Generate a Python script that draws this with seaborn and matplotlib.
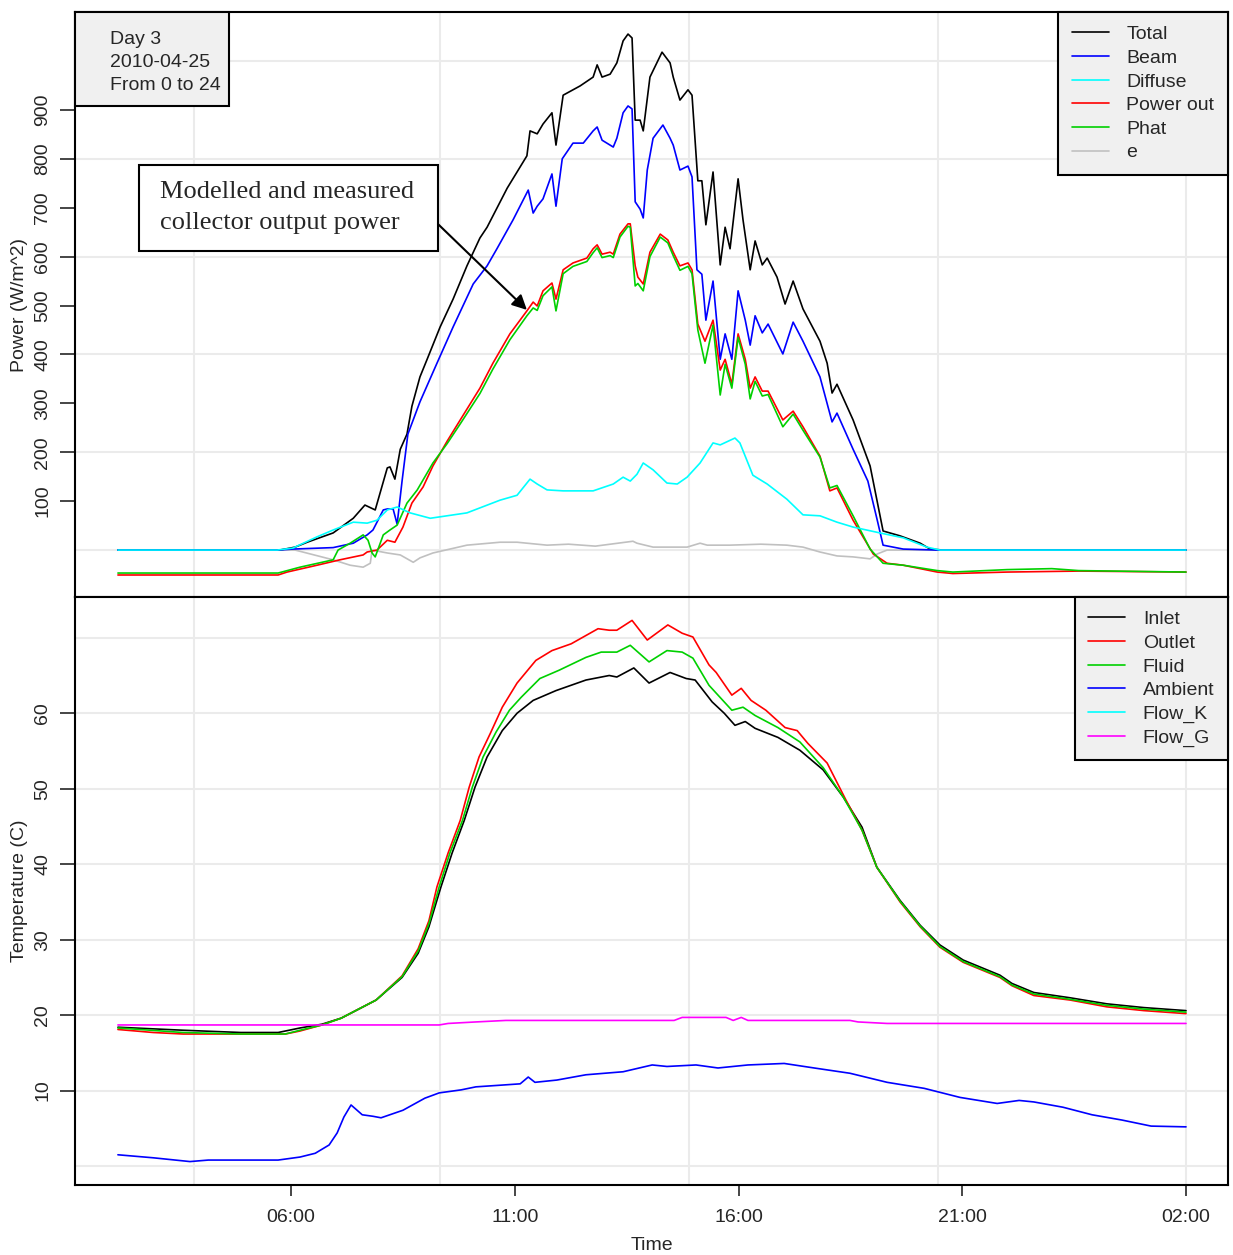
import pandas as pd
import matplotlib
matplotlib.use("Agg")
import matplotlib.pyplot as plt
from matplotlib.lines import Line2D
from matplotlib.patches import Rectangle
import seaborn as sns

# ---- power panel: hour of day (26 = 02:00 next day), W/m^2 ----
total_t = [2.13, 5.75, 6.09, 6.36, 6.94, 7.39, 7.65, 7.88, 8.15, 8.21, 8.32, 8.44, 8.59, 8.70, 8.88,
           9.04, 9.33, 9.62, 9.93, 10.22, 10.38, 10.83, 11.27, 11.34, 11.50, 11.63, 11.83, 11.92,
           12.08, 12.46, 12.75, 12.84, 12.95, 13.13, 13.28, 13.42, 13.53, 13.62, 13.69, 13.80, 13.87,
           14.02, 14.29, 14.47, 14.54, 14.69, 14.87, 14.96, 15.09, 15.18, 15.27, 15.43, 15.59, 15.70,
           15.81, 15.99, 16.10, 16.26, 16.37, 16.53, 16.64, 16.86, 17.04, 17.22, 17.44, 17.82, 17.98,
           18.09, 18.20, 18.56, 18.94, 19.23, 19.61, 20.06, 20.28, 20.57, 26.0]
total_v = [0, 0, 6, 16, 35, 65, 92, 82, 168, 170, 145, 206, 237, 294, 354,
           390, 456, 513, 581, 638, 660, 740, 806, 857, 851, 871, 894, 828,
           930, 949, 967, 992, 967, 973, 996, 1041, 1055, 1047, 879, 879, 857,
           967, 1018, 996, 967, 920, 941, 930, 755, 755, 665, 773, 583, 660,
           616, 759, 675, 573, 632, 583, 597, 558, 503, 550, 493, 427, 382,
           321, 339, 266, 172, 39, 29, 14, 2, 0, 0]

beam_t = [2.13, 5.69, 6.04, 6.94, 7.39, 7.70, 7.83, 8.06, 8.15, 8.28, 8.37, 8.48, 8.61, 8.88, 9.26,
          9.62, 10.07, 10.38, 10.60, 10.96, 11.30, 11.41, 11.50, 11.63, 11.83, 11.92, 12.06, 12.30,
          12.53, 12.75, 12.84, 12.95, 13.20, 13.28, 13.42, 13.53, 13.62, 13.69, 13.80, 13.87, 13.96,
          14.09, 14.31, 14.47, 14.54, 14.69, 14.87, 14.96, 15.07, 15.18, 15.27, 15.43, 15.59, 15.70,
          15.85, 15.99, 16.15, 16.26, 16.37, 16.53, 16.66, 16.99, 17.22, 17.44, 17.82, 18.09, 18.20,
          18.56, 18.89, 19.10, 19.23, 19.68, 20.44, 26.0]
beam_v = [0, 0, 2, 5, 14, 31, 41, 82, 84, 84, 53, 141, 237, 303, 382,
          456, 544, 581, 616, 675, 736, 689, 703, 718, 769, 703, 800, 832,
          832, 857, 865, 838, 824, 842, 894, 908, 902, 712, 697, 679, 777,
          842, 869, 842, 828, 777, 785, 763, 573, 564, 470, 550, 390, 442,
          390, 530, 470, 419, 479, 444, 462, 401, 466, 427, 354, 262, 280,
          206, 141, 61, 10, 2, 0, 0]

diffuse_t = [2.13, 5.69, 6.04, 6.58, 6.94, 7.39, 7.70, 7.92, 8.15, 8.37, 8.66, 9.11, 9.93, 10.67,
             11.05, 11.34, 11.50, 11.72, 12.08, 12.75, 13.20, 13.42, 13.58, 13.73, 13.87, 14.09,
             14.40, 14.63, 14.85, 15.14, 15.43, 15.59, 15.92, 16.03, 16.32, 16.64, 17.08, 17.44,
             17.82, 18.20, 18.56, 19.16, 19.68, 20.21, 20.50, 26.0]
diffuse_v = [0, 0, 4, 27, 41, 57, 55, 61, 82, 88, 76, 65, 76, 102,
             112, 145, 135, 123, 121, 121, 135, 149, 141, 155, 178, 164,
             137, 135, 149, 178, 219, 215, 229, 219, 153, 135, 104, 72,
             70, 57, 47, 35, 25, 6, 0, 0]

power_out_t = [2.13, 5.71, 5.91, 6.58, 7.09, 7.61, 7.70, 7.92, 8.15, 8.32, 8.50, 8.70, 8.95, 9.17,
               9.49, 9.78, 10.22, 10.51, 10.89, 11.27, 11.41, 11.50, 11.63, 11.83, 11.92, 12.08,
               12.30, 12.61, 12.75, 12.84, 12.95, 13.13, 13.20, 13.35, 13.53, 13.58, 13.69, 13.75,
               13.87, 14.02, 14.25, 14.42, 14.54, 14.69, 14.87, 14.96, 15.09, 15.25, 15.43, 15.59,
               15.70, 15.85, 15.99, 16.15, 16.26, 16.37, 16.53, 16.66, 16.99, 17.22, 17.44, 17.82,
               18.04, 18.20, 18.56, 19.01, 19.32, 19.68, 20.44, 20.79, 22.0, 23.6, 26.0]
power_out_v = [-51, -51, -45, -31, -20, -10, -4, 0, 20, 16, 47, 96, 129, 172,
               223, 266, 331, 382, 442, 489, 507, 499, 530, 546, 513, 573,
               587, 597, 616, 624, 605, 609, 605, 646, 667, 667, 581, 558,
               544, 609, 646, 634, 609, 581, 587, 573, 462, 427, 470, 368,
               390, 339, 442, 390, 331, 354, 325, 325, 266, 284, 252, 192,
               121, 127, 61, -8, -27, -31, -45, -48, -45, -43, -45]

phat_t = [2.13, 5.71, 6.20, 6.94, 7.05, 7.32, 7.61, 7.72, 7.81, 7.88, 8.06, 8.21, 8.37, 8.59, 8.82,
          9.17, 9.49, 9.78, 10.22, 10.51, 10.89, 11.27, 11.41, 11.50, 11.63, 11.83, 11.92, 12.08,
          12.30, 12.61, 12.75, 12.84, 12.95, 13.13, 13.20, 13.35, 13.53, 13.58, 13.69, 13.75, 13.87,
          14.02, 14.25, 14.42, 14.54, 14.69, 14.87, 14.96, 15.09, 15.25, 15.43, 15.59, 15.70, 15.85,
          15.99, 16.15, 16.26, 16.37, 16.53, 16.66, 16.99, 17.22, 17.44, 17.82, 18.04, 18.20, 18.56,
          18.94, 19.23, 19.68, 20.44, 20.79, 22.0, 23.0, 23.6, 26.0]
phat_v = [-47, -47, -35, -20, 0, 14, 31, 20, -6, -14, 31, 41, 51, 96, 123,
          178, 218, 258, 320, 370, 430, 479, 495, 490, 520, 538, 489, 565,
          580, 590, 608, 618, 598, 602, 598, 640, 662, 660, 540, 545, 530,
          600, 640, 628, 602, 572, 580, 565, 450, 382, 460, 317, 380, 331,
          435, 380, 309, 345, 315, 318, 252, 278, 245, 190, 127, 132, 70,
          2, -27, -31, -42, -45, -40, -38, -42, -45]

e_t = [2.13, 6.09, 6.94, 7.32, 7.61, 7.77, 7.81, 8.15, 8.44, 8.73, 8.88, 9.17, 9.93, 10.67, 11.05,
       11.72, 12.2, 12.8, 13.64, 13.73, 14.09, 14.85, 15.14, 15.30, 15.8, 16.5, 17.08, 17.44, 17.82,
       18.20, 18.56, 18.94, 19.10, 19.32, 26.0]
e_v = [0, 0, -20, -31, -35, -27, 0, -6, -10, -25, -16, -6, 10, 16, 16,
       10, 12, 8, 18, 14, 6, 6, 14, 10, 10, 12, 10, 6, -4,
       -12, -14, -18, -8, 0, 0]

# ---- temperature panel: degrees C ----
inlet_t = [2.13, 3.59, 4.88, 5.71, 6.20, 6.69, 7.12, 7.90, 8.48, 8.84, 9.08, 9.35, 9.60, 9.87, 10.11,
           10.38, 10.72, 11.05, 11.41, 11.92, 12.59, 13.11, 13.28, 13.66, 14.00, 14.47, 14.83, 15.03,
           15.41, 15.68, 15.92, 16.15, 16.37, 16.88, 17.37, 17.89, 18.34, 18.76, 19.09, 19.61, 20.06,
           20.50, 21.02, 21.84, 22.11, 22.60, 23.41, 24.23, 25.06, 26.0]
inlet_v = [18.4, 18.0, 17.7, 17.7, 18.3, 18.8, 19.6, 22.0, 25.0, 28.2, 31.7, 37.0, 41.5, 45.8, 50.2,
           54.2, 57.7, 60.0, 61.7, 63.0, 64.4, 65.0, 64.8, 66.0, 64.0, 65.4, 64.6, 64.4,
           61.5, 60.0, 58.4, 58.9, 58.0, 56.8, 55.1, 52.5, 48.9, 44.9, 39.6, 35.2, 31.9,
           29.3, 27.3, 25.3, 24.2, 23.0, 22.3, 21.5, 21.0, 20.6]

outlet_t = [2.13, 2.92, 3.59, 5.87, 6.20, 6.69, 7.12, 7.90, 8.48, 8.84, 9.08, 9.26, 9.51, 9.78, 9.98,
            10.20, 10.45, 10.72, 11.05, 11.47, 11.83, 12.26, 12.86, 13.11, 13.28, 13.62, 13.96, 14.42,
            14.74, 14.98, 15.34, 15.50, 15.85, 16.06, 16.28, 16.61, 17.04, 17.31, 17.55, 17.98, 18.40,
            18.76, 19.09, 19.61, 20.06, 20.50, 21.02, 21.84, 22.11, 22.60, 23.41, 24.23, 25.06, 26.0]
outlet_v = [18.1, 17.7, 17.5, 17.5, 17.9, 18.7, 19.6, 22.0, 25.2, 28.8, 32.5, 37.0, 41.5, 45.8, 50.2,
            54.2, 57.3, 60.8, 64.0, 67.0, 68.3, 69.2, 71.2, 71.0, 71.0, 72.3, 69.7, 71.7,
            70.6, 70.1, 66.4, 65.4, 62.4, 63.3, 61.7, 60.4, 58.1, 57.7, 56.0, 53.4, 48.5,
            44.5, 39.6, 35.0, 31.7, 29.0, 27.0, 25.0, 23.9, 22.6, 22.0, 21.1, 20.6, 20.2]

fluid_t = [2.13, 3.59, 4.88, 5.87, 6.20, 6.69, 7.12, 7.90, 8.48, 8.84, 9.08, 9.31, 9.55, 9.83, 10.05,
           10.29, 10.58, 10.88, 11.14, 11.56, 11.99, 12.59, 12.93, 13.28, 13.58, 14.00, 14.40, 14.74,
           14.98, 15.34, 15.85, 16.10, 16.37, 16.88, 17.37, 17.89, 18.34, 18.76, 19.09, 19.61, 20.06,
           20.50, 21.02, 21.84, 22.11, 22.60, 23.41, 24.23, 25.06, 26.0]
fluid_v = [18.3, 17.7, 17.5, 17.5, 18.0, 18.7, 19.6, 22.0, 25.1, 28.5, 32.1, 37.0, 41.5, 45.8, 50.2,
           54.2, 57.5, 60.4, 62.1, 64.6, 65.7, 67.4, 68.1, 68.1, 69.0, 66.8, 68.3, 68.1,
           67.3, 63.7, 60.4, 60.8, 59.7, 58.1, 56.2, 52.8, 48.9, 44.5, 39.6, 35.1, 31.8,
           29.1, 27.1, 25.1, 24.0, 22.8, 22.1, 21.3, 20.8, 20.4]

ambient_t = [2.13, 2.92, 3.74, 4.15, 5.71, 6.20, 6.54, 6.85, 7.03, 7.18, 7.34, 7.59, 7.83, 8.01, 8.50,
             8.99, 9.31, 9.80, 10.13, 10.63, 11.12, 11.30, 11.45, 11.94, 12.59, 13.42, 14.07, 14.40,
             15.05, 15.54, 16.21, 17.02, 17.69, 18.49, 19.32, 20.15, 20.95, 21.78, 22.27, 22.60,
             23.25, 23.90, 24.57, 25.22, 26.0]
ambient_v = [1.5, 1.1, 0.6, 0.8, 0.8, 1.2, 1.7, 2.8, 4.4, 6.5, 8.1, 6.8, 6.6, 6.4, 7.4,
             9.0, 9.7, 10.1, 10.5, 10.7, 10.9, 11.8, 11.1, 11.4, 12.1, 12.5, 13.4, 13.2,
             13.4, 13.0, 13.4, 13.6, 13.0, 12.3, 11.1, 10.3, 9.1, 8.3, 8.7, 8.5,
             7.8, 6.8, 6.1, 5.3, 5.2]

flow_g_t = [2.13, 9.31, 9.51, 10.13, 10.80, 14.56, 14.74, 15.72, 15.88, 16.06, 16.21, 18.49, 18.67,
            19.32, 26.0]
flow_g_v = [18.7, 18.7, 18.9, 19.1, 19.3, 19.3, 19.7, 19.7, 19.3, 19.7, 19.3, 19.3, 19.1, 18.9, 18.9]

hour_ticks = [6, 11, 16, 21, 26]
hour_labels = ["06:00", "11:00", "16:00", "21:00", "02:00"]
grid_hours = [3.83, 9.33, 14.89, 20.46, 26.0]

power_series = {"e": (e_t, e_v), "Total": (total_t, total_v), "Beam": (beam_t, beam_v),
                "Power out": (power_out_t, power_out_v), "Phat": (phat_t, phat_v),
                "Diffuse": (diffuse_t, diffuse_v)}
temp_series = {"Inlet": (inlet_t, inlet_v), "Outlet": (outlet_t, outlet_v),
               "Fluid": (fluid_t, fluid_v), "Ambient": (ambient_t, ambient_v),
               "Flow_G": (flow_g_t, flow_g_v)}

colors = {"Total": "black", "Beam": "#0000ff", "Diffuse": "#00ffff", "Power out": "#ff0000",
          "Phat": "#00d000", "e": "#c0c0c0",
          "Inlet": "black", "Outlet": "#ff0000", "Fluid": "#00d000", "Ambient": "#0000ff",
          "Flow_K": "#00ffff", "Flow_G": "#ff00ff"}


def long_form(series):
    frames = [pd.DataFrame({"hour": t, "value": v, "series": name}) for name, (t, v) in series.items()]
    return pd.concat(frames, ignore_index=True)


sns.set_style("white")
plt.rcParams["font.family"] = ["Liberation Sans", "DejaVu Sans"]
plt.rcParams["font.size"] = 14

fig = plt.figure(figsize=(12.33, 12.55), dpi=100)
ax1 = fig.add_axes([0.0608, 0.5243, 0.9352, 0.4661])
ax2 = fig.add_axes([0.0608, 0.0558, 0.9352, 0.4685])

for ax in (ax1, ax2):
    for h in grid_hours:
        ax.axvline(h, color="#ebebeb", lw=1.5, zorder=0)
    for s in ax.spines.values():
        s.set_color("black")
        s.set_linewidth(1.5)
    ax.set_xlim(1.17, 26.94)

for v in range(-200, 1201, 200):
    ax1.axhline(v, color="#ebebeb", lw=1.5, zorder=0)
for v in range(0, 80, 10):
    ax2.axhline(v, color="#ebebeb", lw=1.5, zorder=0)

sns.lineplot(data=long_form(power_series), x="hour", y="value", hue="series",
             hue_order=list(power_series), palette=colors, estimator=None, sort=False,
             linewidth=1.2, legend=False, ax=ax1)
sns.lineplot(data=long_form(temp_series), x="hour", y="value", hue="series",
             hue_order=list(temp_series), palette=colors, estimator=None, sort=False,
             linewidth=1.2, legend=False, ax=ax2)

ax1.set_ylim(-96, 1100)
ax2.set_ylim(-2.5, 75.4)
ax1.set_yticks(range(100, 1000, 100))
ax2.set_yticks(range(10, 70, 10))
ax2.set_xticks(hour_ticks)
ax2.set_xticklabels(hour_labels)
ax1.tick_params(axis="x", bottom=False, labelbottom=False)
ax1.set_xlabel("")
for ax in (ax1, ax2):
    ax.tick_params(axis="y", left=True, length=11, width=1.2, pad=6, labelsize=14)
    plt.setp(ax.get_yticklabels(), rotation=90, va="center")
ax2.tick_params(axis="x", bottom=True, length=8, width=1.2, pad=9, labelsize=14)

ax1.set_ylabel("Power (W/m^2)", fontsize=14)
ax2.set_ylabel("Temperature (C)", fontsize=14)
ax2.set_xlabel("Time", fontsize=14)
ax1.yaxis.set_label_coords(-0.041, 0.5)
ax2.yaxis.set_label_coords(-0.041, 0.5)
ax2.xaxis.set_label_coords(0.5, -0.088)

legend_kw = dict(loc="upper right", borderaxespad=0, frameon=True, fancybox=False,
                 edgecolor="black", facecolor="#f0f0f0", framealpha=1, fontsize=14,
                 handlelength=1.9, handletextpad=0.9, labelspacing=0.31, borderpad=0.7)
top_names = ["Total", "Beam", "Diffuse", "Power out", "Phat", "e"]
leg1 = ax1.legend([Line2D([], [], color=colors[n], lw=1.2) for n in top_names], top_names, **legend_kw)
leg1.get_frame().set_linewidth(1.5)
bottom_names = ["Inlet", "Outlet", "Fluid", "Ambient", "Flow_K", "Flow_G"]
leg2 = ax2.legend([Line2D([], [], color=colors[n], lw=1.2) for n in bottom_names], bottom_names, **legend_kw)
leg2.get_frame().set_linewidth(1.5)

# info box, top-left
ax1.add_patch(Rectangle((0, 1 - 0.1607), 0.1336, 0.1607, transform=ax1.transAxes,
                        facecolor="#f0f0f0", edgecolor="black", lw=1.5, zorder=5, clip_on=False))
ax1.text(0.0304, 0.967, "Day 3\n2010-04-25\nFrom 0 to 24", transform=ax1.transAxes,
         ha="left", va="top", fontsize=14, linespacing=1.45, zorder=6)

# annotation box with arrow
ax1.add_patch(Rectangle((0.0555, 0.5915), 0.2593, 0.147, transform=ax1.transAxes,
                        facecolor="white", edgecolor="black", lw=1.5, zorder=5))
ax1.text(0.0737, 0.666, "Modelled and measured\ncollector output power", transform=ax1.transAxes,
         ha="left", va="center", fontsize=19, linespacing=1.5, zorder=6,
         family=["Liberation Serif", "DejaVu Serif"])
ax1.annotate("", xy=(11.27, 491), xycoords="data", xytext=(0.3148, 0.6376),
             textcoords="axes fraction",
             arrowprops=dict(arrowstyle="-|>", color="black", lw=1.5, mutation_scale=22,
                             shrinkA=0, shrinkB=0), zorder=6)

fig.savefig("out.png", dpi=100)
plt.close(fig)
